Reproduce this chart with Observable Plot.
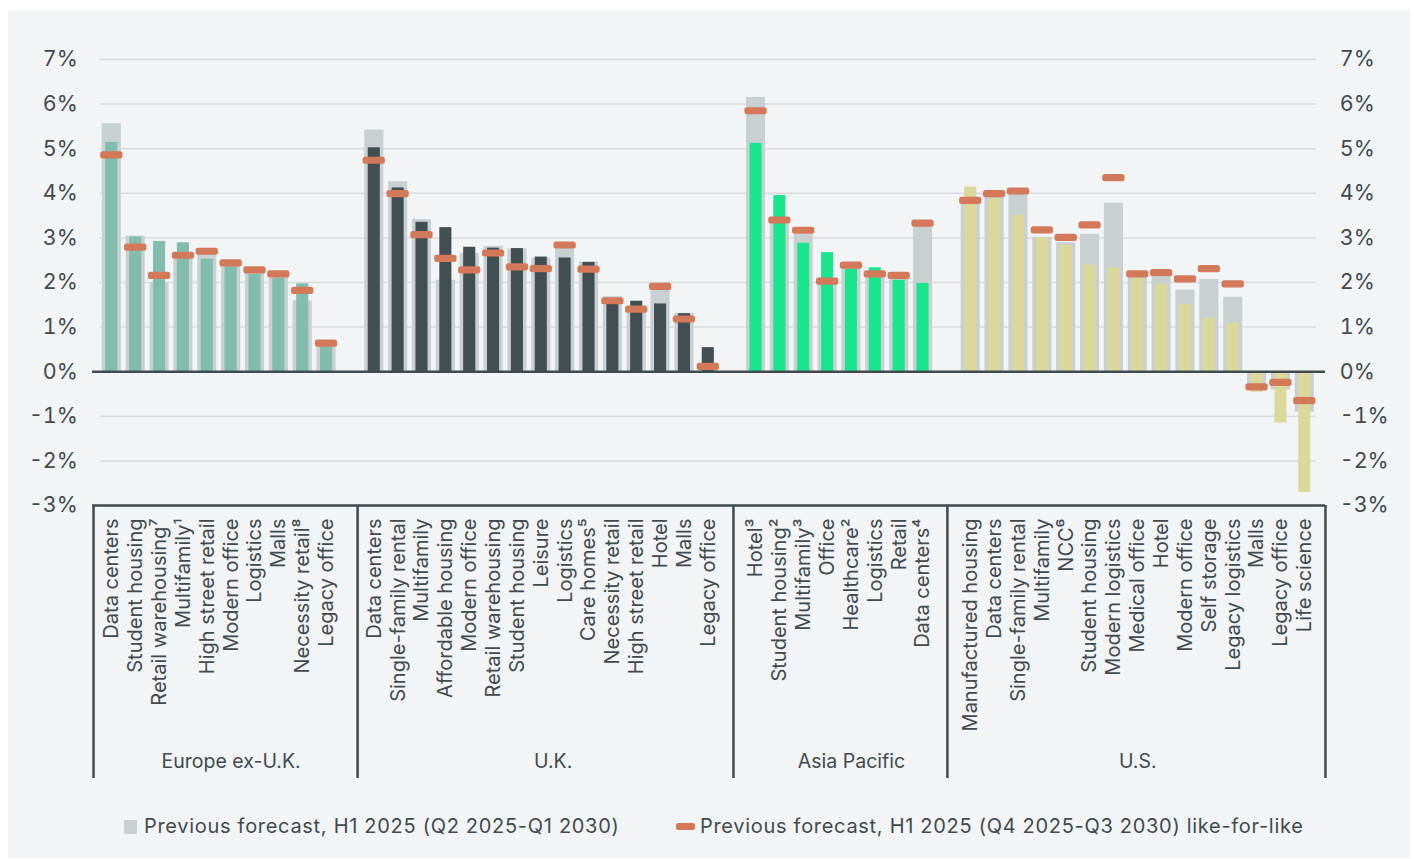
<!DOCTYPE html>
<html>
<head>
<meta charset="utf-8">
<script src="https://cdn.jsdelivr.net/npm/d3@7"></script>
<script src="https://cdn.jsdelivr.net/npm/@observablehq/plot@0.6"></script>
<style>
  html, body { margin: 0; padding: 0; background: #ffffff; }
  #panel { position: absolute; left: 8px; top: 10px; width: 1402px; height: 848px; background: #f3f4f6;
           font-family: Inter, Roboto, sans-serif; color: #3f4b4e; }
  #chart { position: absolute; left: 0; top: 0; }
  .sw1 { position: absolute; left: 116px; top: 810px; width: 13px; height: 14px; background: #c9d0d2; }
  .sw2 { position: absolute; left: 668px; top: 813px; width: 19px; height: 7px; background: #d4785a; border-radius: 2px; }
  .lt { position: absolute; top: 804px; line-height: 24px; font-size: 20px; letter-spacing: 0.7px; white-space: nowrap; color: #3f4b4e; }
</style>
</head>
<body>
<div id="panel">
  <div id="chart"></div>
  <div class="sw1"></div><div class="lt" style="left:136px">Previous forecast, H1 2025 (Q2 2025-Q1 2030)</div>
  <div class="sw2"></div><div class="lt" style="left:692px">Previous forecast, H1 2025 (Q4 2025-Q3 2030) like-for-like</div>
</div>
<script>
// ---------- data ----------
const groups = ["Europe ex-U.K.", "U.K.", "Asia Pacific", "U.S."];
const groupColors = ["#82bcac", "#414f53", "#19e68c", "#dbd89b"];

const europeCategories = ["Data centers", "Student housing", "Retail warehousing⁷", "Multifamily¹", "High street retail", "Modern office", "Logistics", "Malls", "Necessity retail⁸", "Legacy office"];
const europeCurrent    = [5.14, 3.02, 2.92, 2.89, 2.52, 2.35, 2.18, 2.09, 1.97, 0.56];
const europePrevious   = [5.56, 3.04, 1.99, 2.57, 2.65, 2.41, 2.25, 2.16, 1.59, 0.61];
const europeLikeForLike= [4.85, 2.78, 2.15, 2.60, 2.69, 2.43, 2.27, 2.18, 1.81, 0.63];

const ukCategories = ["Data centers", "Single-family rental", "Multifamily", "Affordable housing", "Modern office", "Retail warehousing", "Student housing", "Leisure", "Logistics", "Care homes⁵", "Necessity retail", "High street retail", "Hotel", "Malls", "Legacy office"];
const ukCurrent    = [5.02, 4.12, 3.35, 3.23, 2.79, 2.77, 2.76, 2.57, 2.55, 2.45, 1.51, 1.58, 1.52, 1.30, 0.54];
const ukPrevious   = [5.42, 4.26, 3.41, 2.05, 2.65, 2.81, 2.75, 2.55, 2.80, 2.46, 1.68, 1.38, 1.87, 1.31, 0.08];
const ukLikeForLike= [4.73, 3.98, 3.06, 2.53, 2.27, 2.65, 2.34, 2.30, 2.83, 2.29, 1.58, 1.39, 1.90, 1.17, 0.11];

const asiaCategories = ["Hotel³", "Student housing²", "Multifamily³", "Office", "Healthcare²", "Logistics", "Retail", "Data centers⁴"];
const asiaCurrent    = [5.12, 3.95, 2.88, 2.67, 2.30, 2.33, 2.05, 1.98];
const asiaPrevious   = [6.15, 3.32, 3.08, 1.96, 2.35, 2.13, 2.11, 3.28];
const asiaLikeForLike= [5.84, 3.39, 3.16, 2.02, 2.38, 2.18, 2.15, 3.32];

const usCategories = ["Manufactured housing", "Data centers", "Single-family rental", "Multifamily", "NCC⁶", "Student housing", "Modern logistics", "Medical office", "Hotel", "Modern office", "Self storage", "Legacy logistics", "Malls", "Legacy office", "Life science"];
const usCurrent    = [4.14, 3.88, 3.51, 3.01, 2.83, 2.39, 2.33, 2.09, 1.96, 1.51, 1.20, 1.09, -0.46, -1.15, -2.71];
const usPrevious   = [3.78, 3.92, 3.99, 3.01, 2.89, 3.08, 3.78, 2.13, 2.13, 1.83, 2.07, 1.67, -0.41, -0.41, -0.91];
const usLikeForLike= [3.83, 3.98, 4.04, 3.17, 3.00, 3.28, 4.34, 2.18, 2.21, 2.07, 2.30, 1.96, -0.35, -0.25, -0.66];

const yTicks = [-3, -2, -1, 0, 1, 2, 3, 4, 5, 6, 7];

// ---------- build table ----------
const groupArrays = [
  [europeCategories, europeCurrent, europePrevious, europeLikeForLike],
  [ukCategories, ukCurrent, ukPrevious, ukLikeForLike],
  [asiaCategories, asiaCurrent, asiaPrevious, asiaLikeForLike],
  [usCategories, usCurrent, usPrevious, usLikeForLike]
];
const data = [];
const domain = [];
groupArrays.forEach(([cats, cur, prev, lfl], g) => {
  cats.forEach((c, i) => {
    const key = groups[g] + "|" + c;
    domain.push(key);
    data.push({group: groups[g], category: c, key, current: cur[i], previous: prev[i], lfl: lfl[i]});
  });
  if (g < groups.length - 1) domain.push("gap" + g);
});

const dark = "#3f4b4e";
const W = 1402, H = 790;
const mL = 91.4, mR = 93.8, mT = 49, mB = 295;
const step = (W - mL - mR) / domain.length;

const groupLabelMarks = groupArrays.map(([cats], g) => {
  const n = cats.length;
  const hasGap = g < groups.length - 1;
  const anchor = groups[g] + "|" + cats[Math.floor(n / 2)];
  return Plot.text([groups[g]], {
    x: () => anchor, text: d => d, frameAnchor: "bottom", dy: 262,
    dx: (n % 2 === 1 && hasGap) ? step / 2 : 0,
    fontSize: 19.5, fill: dark
  });
});

const firstKey = domain[0], lastKey = domain[domain.length - 1];
const sepSpec = [[firstKey, -18.3], ["gap0", 7.2], ["gap1", 1.3], ["gap2", 0.5], [lastKey, 20.7]];
const sepMarks = sepSpec.map(([k, dx]) => Plot.ruleX([k], {
  x: d => d, dx, stroke: dark, strokeWidth: 2.5,
  insetTop: (H - mB - mT), insetBottom: -273
}));

const chart = Plot.plot({
  width: W, height: H,
  marginLeft: mL, marginRight: mR, marginTop: mT, marginBottom: mB,
  style: {background: "transparent", fontFamily: "Inter, Roboto, sans-serif", color: dark},
  x: {type: "band", domain, paddingInner: 0.2, paddingOuter: 0.1, axis: null},
  y: {domain: [-3, 7], axis: null},
  color: {domain: groups, range: groupColors},
  marks: [
    Plot.gridY(yTicks, {stroke: "#d8dbdd", strokeOpacity: 1, strokeWidth: 1.5}),
    Plot.barY(data, {x: "key", y: "previous", fill: "#c9d0d2"}),
    Plot.barY(data, {x: "key", y: "current", fill: "group", insetLeft: 3.5, insetRight: 3.5}),
    Plot.ruleY([0], {stroke: dark, strokeWidth: 2.5, insetLeft: -7.4, insetRight: -8.8}),
    Plot.barY(data, {x: "key", y1: "lfl", y2: "lfl", fill: "#d4785a",
      insetTop: -3.6, insetBottom: -3.6, insetLeft: -1.6, insetRight: -1.6, rx: 2.5}),
    Plot.ruleY([-3], {stroke: dark, strokeWidth: 2.5, insetLeft: -7.4, insetRight: -8.8}),
    ...sepMarks,
    Plot.text(data, {x: "key", text: "category", frameAnchor: "bottom", dy: 13,
      rotate: -90, textAnchor: "end", lineAnchor: "middle", fontSize: 20, fill: dark}),
    ...groupLabelMarks,
    Plot.axisY(yTicks, {anchor: "left", tickFormat: d => d + "%", tickSize: 0, tickPadding: 22, fontSize: 21.5, label: null}),
    Plot.axisY(yTicks, {anchor: "right", tickFormat: d => d + "%", tickSize: 0, tickPadding: 23, fontSize: 21.5, label: null, textAnchor: "start"})
  ]
});
document.getElementById("chart").appendChild(chart);
</script>
</body>
</html>
